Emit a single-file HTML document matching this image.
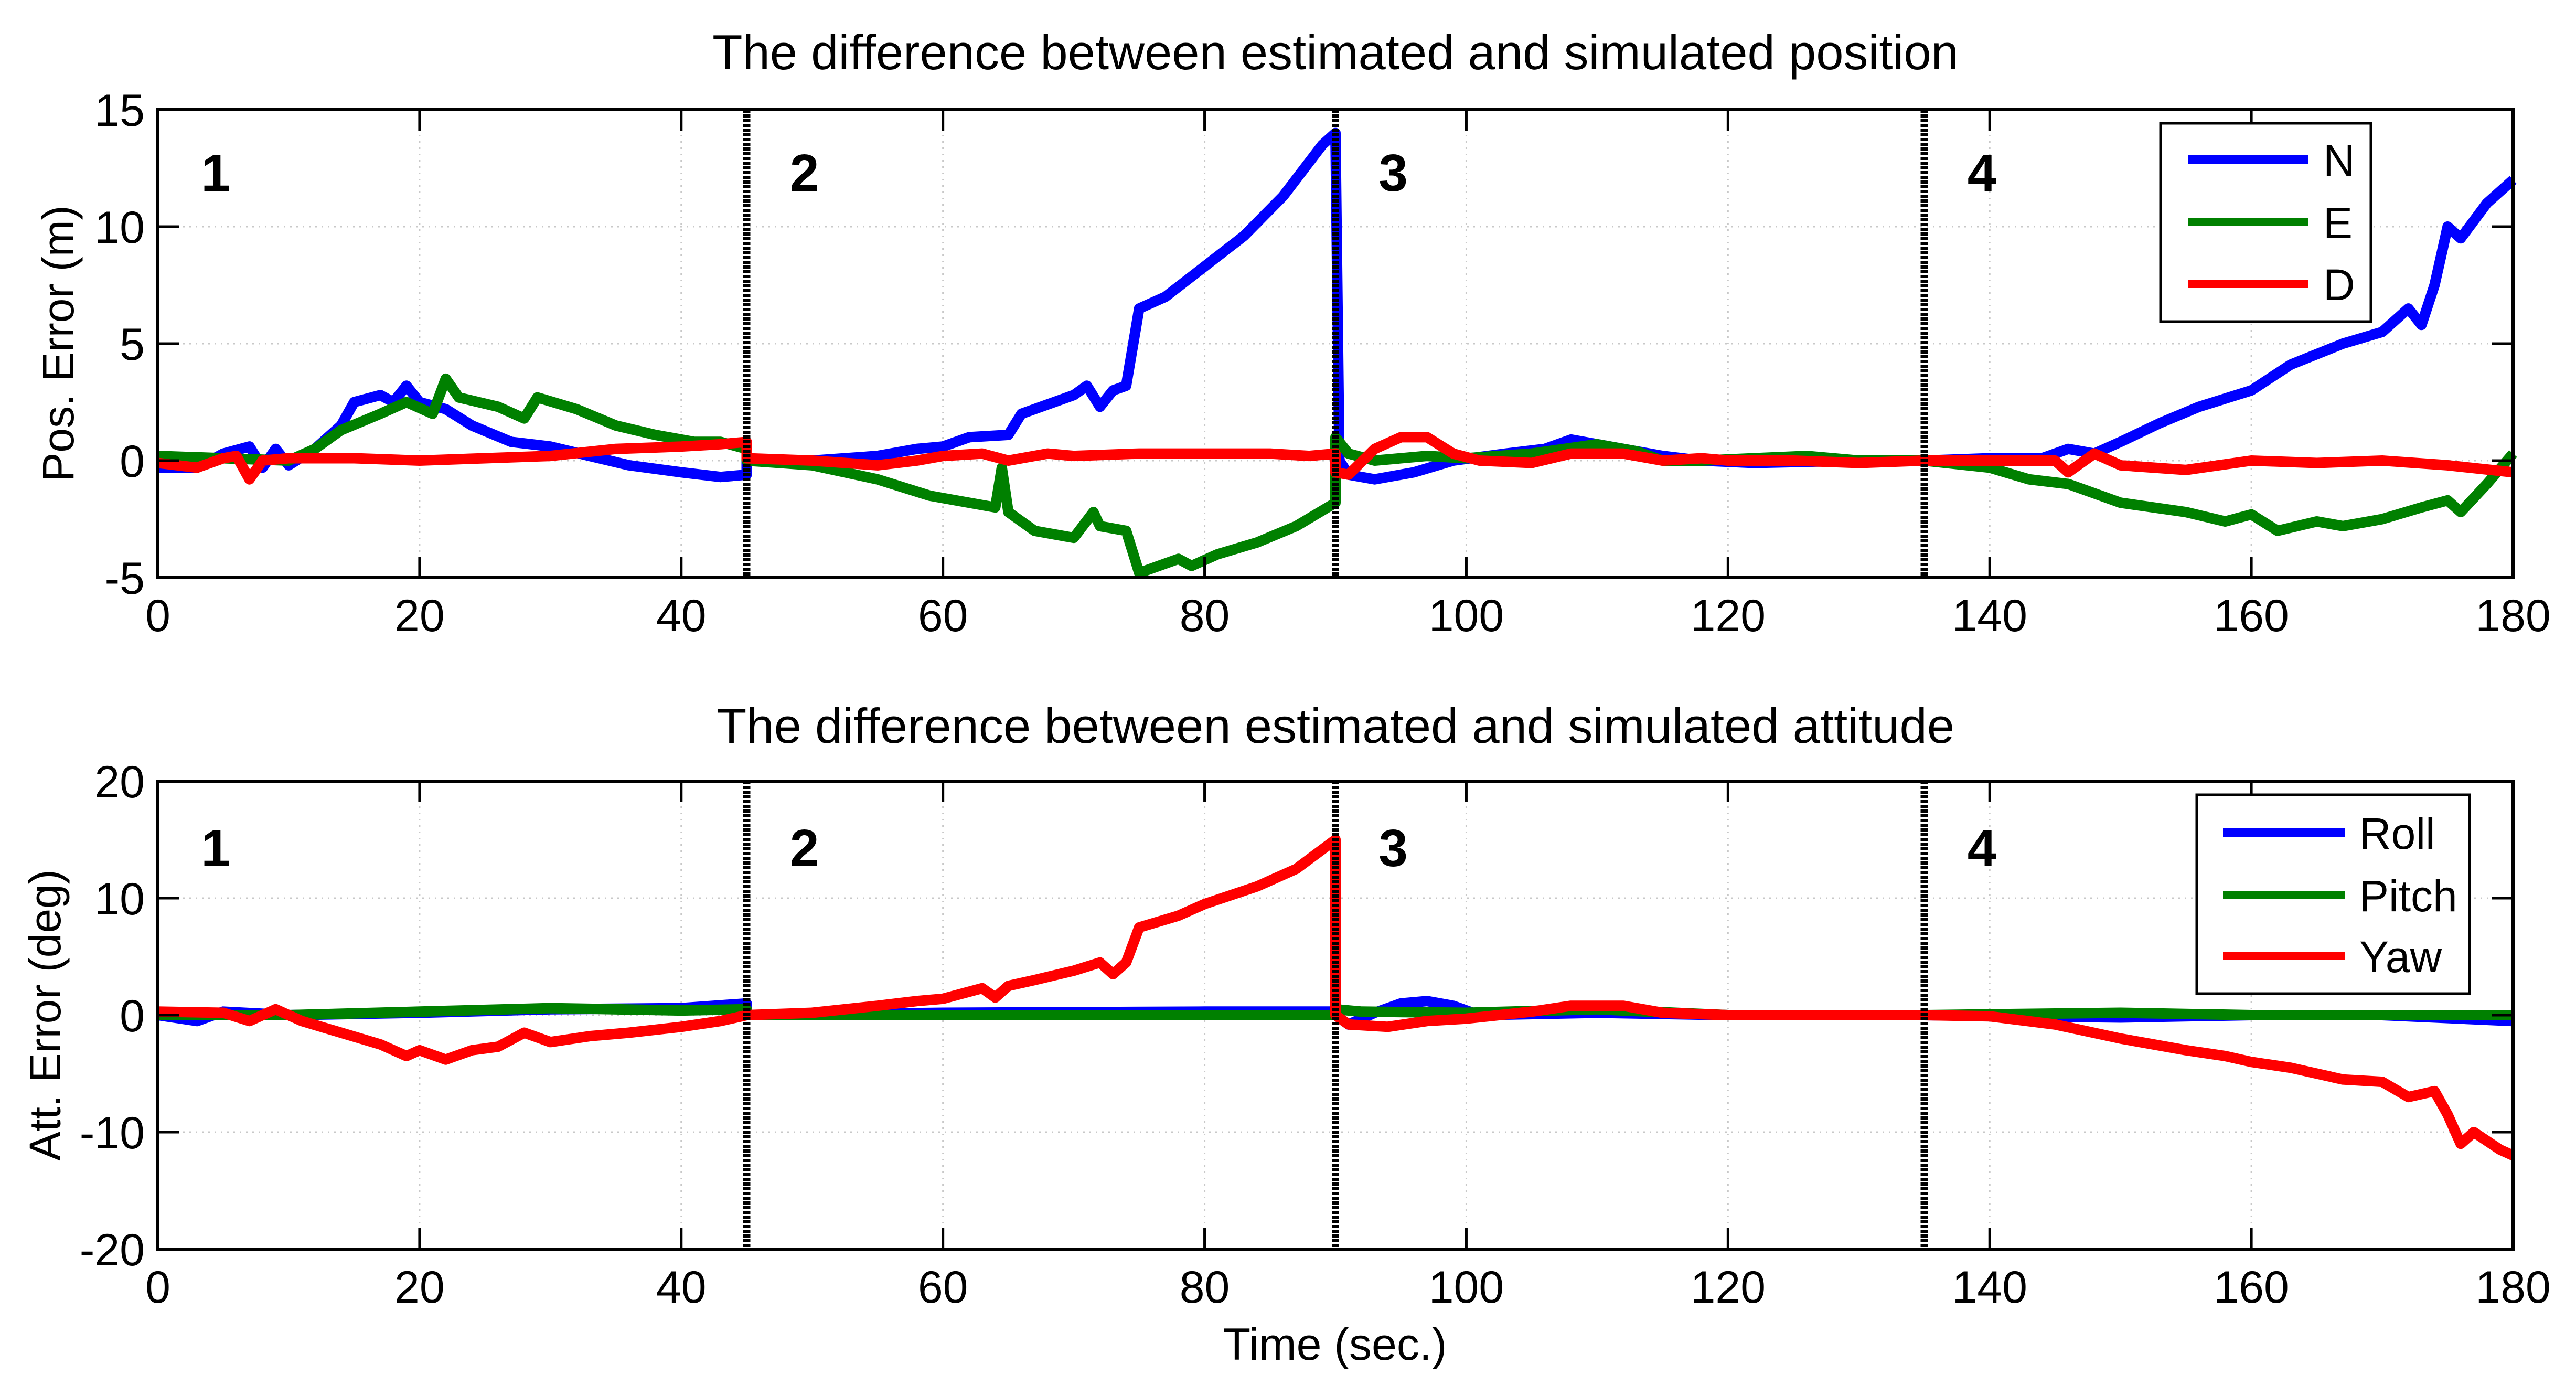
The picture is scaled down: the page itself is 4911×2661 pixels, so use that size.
<!DOCTYPE html>
<html><head><meta charset="utf-8"><style>
html,body{margin:0;padding:0;background:#fff}
svg{display:block}
text{font-family:"Liberation Sans",Arial,sans-serif;fill:#000}
</style></head><body>
<svg id="chart" width="4911" height="2661" viewBox="0 0 4911 2661" xmlns="http://www.w3.org/2000/svg"></svg>
<script>
// ---- Data ----
const xTicks = [0,20,40,60,80,100,120,140,160,180];
const posTicks = [15,10,5,0,-5];
const attTicks = [20,10,0,-10,-20];
const phaseTimes = [45,90,135];
const phaseLabels = ["1","2","3","4"];

const nT = [0,3,5,7,8,9,10,12,14,15,17,18,19,20,22,24,27,30,33,36,40,43,45,45,50,55,58,60,62,65,66,70,71,72,73,74,75,77,80,83,86,89,90,90.3,91,93,96,99,103,106,108,111,115,118,122,130,135,140,144,146,148,150,153,156,160,163,167,170,172,173,174,175,176,178,180];
const nV = [-0.3,-0.3,0.3,0.6,-0.3,0.5,-0.2,0.5,1.5,2.5,2.8,2.5,3.2,2.5,2.2,1.5,0.8,0.6,0.2,-0.2,-0.5,-0.7,-0.6,0,0,0.2,0.5,0.6,1.0,1.1,2.0,2.8,3.2,2.3,3.0,3.2,6.5,7.0,8.3,9.6,11.3,13.5,14,0,-0.6,-0.8,-0.5,0,0.3,0.5,0.9,0.6,0.2,0,-0.1,0,0,0.1,0.1,0.5,0.3,0.8,1.6,2.3,3.0,4.1,5.0,5.5,6.5,5.8,7.5,10,9.5,11,12];
const eT = [0,5,10,12,14,17,19,21,22,23,26,28,29,32,35,38,41,43,45,45,50,55,59,62,64,64.5,65,67,70,71.5,72,74,75,77,78,79,81,84,87,90,90,91,93,97,100,105,110,113,115,118,122,126,130,135,140,143,146,150,155,158,160,162,165,167,170,173,175,176,178,180];
const eV = [0.2,0.1,0,0.5,1.3,2.0,2.5,2.0,3.5,2.7,2.3,1.8,2.7,2.2,1.5,1.1,0.8,0.8,0.5,0,-0.2,-0.8,-1.5,-1.8,-2.0,-0.3,-2.2,-3.0,-3.3,-2.2,-2.8,-3.0,-4.8,-4.4,-4.2,-4.5,-4.0,-3.5,-2.8,-1.8,1.0,0.3,0,0.2,0.1,0.3,0.7,0.4,0,0,0.1,0.2,0,0,-0.3,-0.8,-1.0,-1.8,-2.2,-2.6,-2.3,-3.0,-2.6,-2.8,-2.5,-2.0,-1.7,-2.2,-1.0,0.3];
const dT = [0,3,5,6,7,8,10,15,20,25,30,35,40,43,45,45,50,55,58,60,63,65,68,70,75,80,85,88,90,90,91,93,95,97,99,101,105,108,112,115,118,120,125,130,135,140,145,146,148,150,155,160,165,170,175,180];
const dV = [-0.1,-0.3,0.1,0.2,-0.8,0,0.1,0.1,0,0.1,0.2,0.5,0.6,0.7,0.8,0.1,0,-0.2,0,0.2,0.3,0,0.3,0.2,0.3,0.3,0.3,0.2,0.3,-0.5,-0.6,0.5,1.0,1.0,0.3,0,-0.1,0.3,0.3,0,0.1,0,0,-0.1,0,0,0,-0.5,0.3,-0.2,-0.4,0,-0.1,0,-0.2,-0.5];

const rollT = [0,3,5,10,20,30,40,45,45,60,80,90,90,91,93,95,97,99,101,110,120,135,150,160,170,180];
const rollV = [0,-0.5,0.3,0,0.2,0.5,0.6,1.0,0,0.2,0.3,0.3,0,-0.8,0.2,1.0,1.2,0.8,0,0.2,0,0,-0.2,0,0,-0.5];
const pitchT = [0,10,20,30,40,45,45,90,90,92,100,110,120,135,150,160,180];
const pitchV = [0,0,0.3,0.6,0.4,0.5,0,0,0.5,0.3,0.2,0.5,0,0,0.2,0,0];
const yawT = [0,5,7,9,11,14,17,19,20,22,24,26,28,30,33,36,40,43,45,45,50,55,58,60,63,64,65,67,70,72,73,74,75,78,80,84,87,90,90,91,94,97,100,105,108,112,115,120,130,135,140,145,150,155,158,160,163,167,170,172,174,175,176,177,179,180];
const yawV = [0.3,0.2,-0.5,0.5,-0.5,-1.5,-2.5,-3.5,-3.0,-3.8,-3.0,-2.7,-1.5,-2.3,-1.8,-1.5,-1.0,-0.5,0,0,0.2,0.8,1.2,1.4,2.3,1.5,2.5,3.0,3.8,4.5,3.5,4.5,7.5,8.5,9.5,11,12.5,15,0,-0.8,-1.0,-0.5,-0.3,0.3,0.8,0.8,0.2,0,0,0,-0.1,-0.8,-2.0,-3.0,-3.5,-4.0,-4.5,-5.5,-5.7,-7.0,-6.5,-8.5,-11,-10,-11.5,-12];

// ---- Layout ----
const NS = "http://www.w3.org/2000/svg";
const svg = document.getElementById('chart');
const X0 = 301, X1 = 4791;
function xs(t){ return X0 + (t/180)*(X1-X0); }
function mk(tag, attrs, parent){ const e=document.createElementNS(NS,tag); for(const k in attrs) e.setAttribute(k,attrs[k]); (parent||svg).appendChild(e); return e; }

const panels = [
 {top:209,bot:1101,min:-5,max:15,ticks:posTicks,title:"The difference between estimated and simulated position",titleY:132,ylabel:"Pos. Error (m)",ylabX:140,
  series:[[nT,nV,"#0000ff","N"],[eT,eV,"#008000","E"],[dT,dV,"#ff0000","D"]],
  leg:{x:4119,y:235,w:401,h:378,lx1:4172,lx2:4401,tx:4429,rows:[304,423,541]},phY:322,name:"position"},
 {top:1489,bot:2381,min:-20,max:20,ticks:attTicks,title:"The difference between estimated and simulated attitude",titleY:1416,ylabel:"Att. Error (deg)",ylabX:115,
  series:[[rollT,rollV,"#0000ff","Roll"],[pitchT,pitchV,"#008000","Pitch"],[yawT,yawV,"#ff0000","Yaw"]],
  leg:{x:4188,y:1515,w:520,h:379,lx1:4238,lx2:4470,tx:4498,rows:[1587,1706,1822]},phY:1609,name:"attitude"}
];

panels.forEach(p=>{
  const ys = v => p.bot - (v-p.min)/(p.max-p.min)*(p.bot-p.top);
  const g = mk('g',{});
  
  
  xTicks.forEach(t=>{
    const l=mk('line',{x1:xs(t),x2:xs(t),y1:p.top,y2:p.bot,stroke:"#c8c8c8","stroke-width":3,"stroke-dasharray":"3,9"},g);
    
    
  });
  p.ticks.forEach(v=>{
    const l=mk('line',{x1:X0,x2:X1,y1:ys(v),y2:ys(v),stroke:"#c8c8c8","stroke-width":3,"stroke-dasharray":"3,9"},g);
    
    
  });
  p.series.forEach(s=>{
    const [T,V,c,n]=s;
    let d="";
    for(let i=0;i<T.length;i++) d+=(i?"L":"M")+xs(T[i]).toFixed(1)+","+ys(V[i]).toFixed(1);
    const path=mk('path',{d:d,fill:"none",stroke:c,"stroke-width":20,"stroke-linejoin":"round"},g);
    
    
  });
  phaseTimes.forEach(t=>{
    const l=mk('line',{x1:xs(t),x2:xs(t),y1:p.top,y2:p.bot,stroke:"#000","stroke-width":14,"stroke-dasharray":"6,3"},g);
    
    
  });
  const phaseX=[0,45,90,135];
  phaseLabels.forEach((lab,i)=>{
    const tx=mk('text',{x:xs(phaseX[i])+110,y:p.phY+42,"font-size":100,"font-weight":"bold","text-anchor":"middle"},g);
    tx.textContent=lab;
    
    
  });
  const box=mk('rect',{x:X0,y:p.top,width:X1-X0,height:p.bot-p.top,fill:"none",stroke:"#000","stroke-width":6},g);
  
  
  xTicks.forEach(t=>{
    mk('line',{x1:xs(t),x2:xs(t),y1:p.bot,y2:p.bot-40,stroke:"#000","stroke-width":5},g);
    mk('line',{x1:xs(t),x2:xs(t),y1:p.top,y2:p.top+40,stroke:"#000","stroke-width":5},g);
    const tx=mk('text',{x:xs(t),y:p.bot+102,"font-size":86,"text-anchor":"middle"},g);
    tx.textContent=t;
    
    
  });
  p.ticks.forEach(v=>{
    mk('line',{x1:X0,x2:X0+40,y1:ys(v),y2:ys(v),stroke:"#000","stroke-width":5},g);
    mk('line',{x1:X1,x2:X1-40,y1:ys(v),y2:ys(v),stroke:"#000","stroke-width":5},g);
    const tx=mk('text',{x:X0-25,y:ys(v)+31,"font-size":86,"text-anchor":"end"},g);
    tx.textContent=v;
    
    
  });
  const ti=mk('text',{x:(X0+X1)/2,y:p.titleY,"font-size":94,"text-anchor":"middle"},g);
  ti.textContent=p.title;
  
  
  const yl=mk('text',{x:p.ylabX,y:(p.top+p.bot)/2,"font-size":84,"text-anchor":"middle",transform:`rotate(-90 ${p.ylabX} ${(p.top+p.bot)/2})`},g);
  yl.textContent=p.ylabel;
  
  
  const L=p.leg;
  const lg=mk('g',{},g);
  
  
  mk('rect',{x:L.x,y:L.y,width:L.w,height:L.h,fill:"#fff",stroke:"#000","stroke-width":5},lg);
  p.series.forEach((s,i)=>{
    const e=mk('g',{},lg);
    
    
    mk('line',{x1:L.lx1,x2:L.lx2,y1:L.rows[i],y2:L.rows[i],stroke:s[2],"stroke-width":16},e);
    const t=mk('text',{x:L.tx,y:L.rows[i]+31,"font-size":84},e);
    t.textContent=s[3];
  });
});
const xl=mk('text',{x:2545,y:2592,"font-size":86,"text-anchor":"middle"});
xl.textContent="Time (sec.)";


</script>
</body></html>
